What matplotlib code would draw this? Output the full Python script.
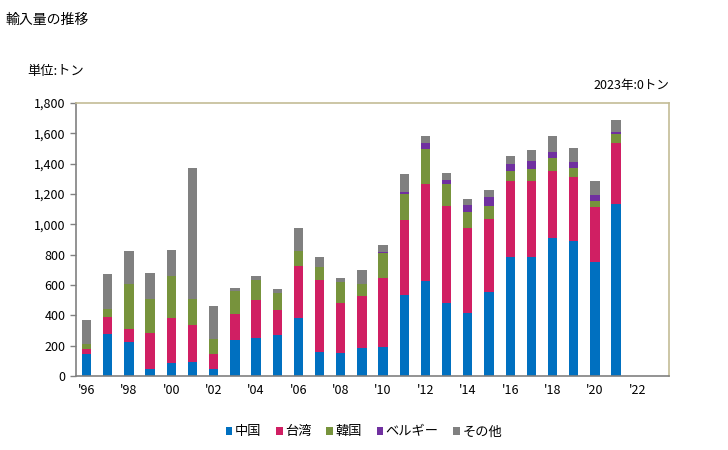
import matplotlib
matplotlib.use("Agg")
import matplotlib.pyplot as plt
import numpy as np

plt.rcParams['font.family'] = ['Noto Sans CJK JP', 'DejaVu Sans']

years = list(range(1996, 2024))
china = [145, 277, 224, 48, 88, 92, 48, 238, 251, 273, 383, 158, 154, 185,
         194, 537, 629, 484, 418, 555, 786, 786, 909, 893, 753, 1131, 0, 0]
taiwan = [33, 112, 86, 238, 295, 247, 97, 171, 251, 163, 343, 476, 328, 343,
          453, 493, 639, 638, 559, 481, 501, 501, 444, 421, 363, 407, 0, 0]
korea = [33, 55, 295, 224, 275, 171, 101, 152, 130, 112, 101, 88, 139, 77,
         165, 171, 231, 146, 106, 86, 66, 80, 86, 59, 39, 60, 0, 0]
belgium = [0, 0, 0, 0, 0, 0, 0, 0, 0, 0, 0, 0, 0, 0,
           7, 14, 39, 26, 46, 60, 47, 52, 40, 40, 40, 13, 0, 0]
other = [159, 229, 220, 170, 174, 863, 216, 20, 28, 26, 150, 64, 26, 95,
         46, 119, 46, 46, 39, 46, 52, 73, 105, 92, 92, 79, 0, 0]

series = [("中国", china, "#0070C0"),
          ("台湾", taiwan, "#D01F63"),
          ("韓国", korea, "#77933C"),
          ("ベルギー", belgium, "#7030A0"),
          ("その他", other, "#808080")]

fig = plt.figure(figsize=(7.28, 4.5), dpi=100)
ax = fig.add_axes([0.1044, 0.1644, 0.8146, 0.6067])

x = np.arange(len(years))
bottom = np.zeros(len(years))
for name, vals, col in series:
    ax.bar(x, vals, 0.44, bottom=bottom, color=col, label=name)
    bottom += np.array(vals)

ax.set_xlim(-0.5, len(years) - 0.5)
ax.set_ylim(0, 1800)
ax.set_yticks(range(0, 1801, 200))
ax.set_yticklabels([f"{v:,}" for v in range(0, 1801, 200)], fontsize=9)
ax.set_xticks(x[::2])
ax.set_xticklabels([f"'{y % 100:02d}" for y in years[::2]], fontsize=9)
ax.tick_params(axis='x', length=0, pad=6)
ax.tick_params(axis='y', length=4, color='#808080', width=1)

for s in ['left', 'bottom']:
    ax.spines[s].set_color('#808080')
    ax.spines[s].set_linewidth(1.2)
for s in ['top', 'right']:
    ax.spines[s].set_color('#C4BC96')
    ax.spines[s].set_linewidth(1.2)

fig.text(0.007, 0.972, "輸入量の推移", fontsize=10, va='top')
fig.text(0.038, 0.84, "単位:トン", fontsize=9.5, va='center')
fig.text(0.919, 0.81, "2023年:0トン", fontsize=9, ha='right', va='center')

fig.legend(loc='center', bbox_to_anchor=(0.5, 0.04), ncol=5, frameon=False,
           fontsize=9.5, handlelength=0.5, handleheight=0.5, handletextpad=0.2,
           columnspacing=1.1)

fig.savefig("out.png", dpi=100)
